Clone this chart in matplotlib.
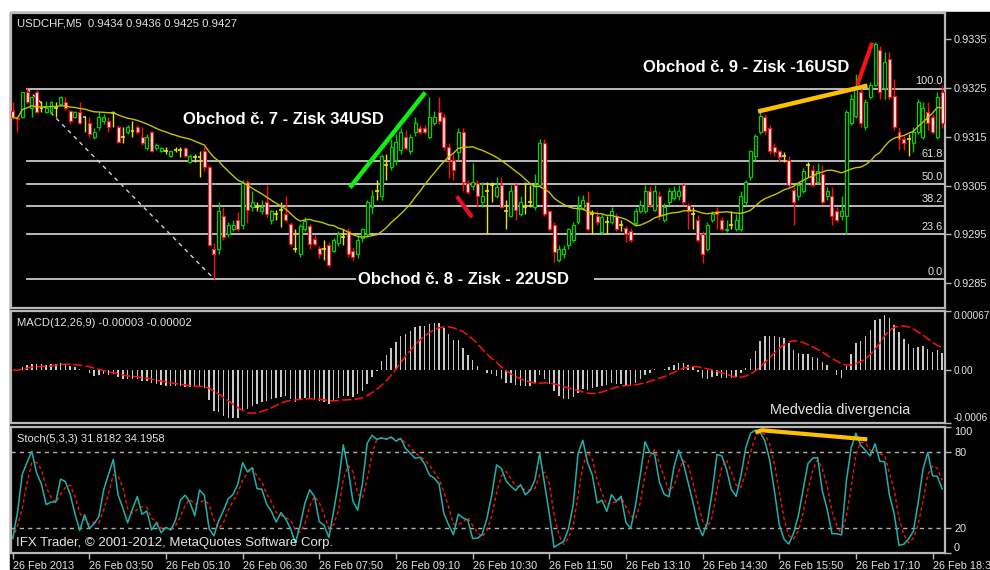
import numpy as np
import matplotlib
matplotlib.use("Agg")
import matplotlib.pyplot as plt
from matplotlib.patches import Rectangle

# ---------------- data (quotes in points, price = points / 100000) ----------------
open_pts = [93202,93188,93190,93243,93210,93241,93210,93200,93200,93210,
            93218,93221,93204,93190,93200,93190,93179,93149,93171,93182,
            93182,93198,93171,93149,93159,93161,93171,93149,93128,93159,
            93128,93120,93120,93110,93124,93124,93128,93099,93108,93108,
            93120,93089,92919,92919,92987,92950,92960,92980,92970,93058,
            93007,93007,92997,93017,92980,92991,93001,92991,92972,92919,
            92909,92960,92968,92941,92923,92919,92929,92915,92933,92945,
            92956,92915,92909,92943,92950,93007,93038,93028,93093,93089,
            93103,93124,93149,93120,93159,93169,93169,93149,93179,93200,
            93190,93130,93103,93118,93159,93056,93050,93056,93017,93038,
            93052,93028,93052,92997,92987,93052,92991,93007,93017,93007,
            93052,93138,92997,92970,92898,92909,92929,92939,92976,93005,
            93017,92991,92987,92954,92976,92976,92987,92970,92964,92956,
            92974,92997,92997,93038,93001,93028,92980,93017,93025,93028,
            93052,93011,92991,92980,92950,92919,92980,92997,92980,92958,
            92970,92960,92960,93017,93068,93110,93159,93190,93169,93130,
            93120,93110,93103,93042,93028,93038,93093,93083,93058,93073,
            93028,93028,92997,92987,92987,93179,93192,93241,93171,93231,
            93257,93329,93251,93309,93233,93159,93145,93145,93138,93159,
            93149,93200,93190,93149,93241]
high_pts = [93221,93192,93243,93251,93233,93247,93223,93223,93223,93221,
            93233,93231,93206,93202,93221,93192,93190,93169,93200,93196,
            93190,93202,93175,93171,93175,93182,93175,93171,93155,93161,
            93138,93130,93130,93122,93130,93130,93130,93114,93114,93120,
            93130,93093,92933,93017,93007,92976,92980,92995,93062,93062,
            93038,93017,93021,93052,93001,93001,93017,93028,92976,92960,
            92972,92985,92972,92948,92927,92939,92935,92943,92956,92960,
            92964,92923,92948,92964,93021,93042,93062,93114,93114,93145,
            93155,93169,93165,93155,93190,93175,93175,93231,93202,93231,
            93196,93138,93114,93169,93169,93062,93097,93062,93058,93058,
            93058,93068,93068,93021,93052,93056,93028,93058,93052,93073,
            93145,93145,93001,92976,92929,92929,92964,92976,93028,93030,
            93038,93001,92997,92991,92987,93007,92993,92980,92968,92964,
            93005,93021,93052,93050,93052,93038,93015,93046,93050,93052,
            93056,93015,93007,92989,92956,92976,92997,93007,92985,92980,
            92997,92991,93038,93062,93124,93155,93210,93196,93175,93138,
            93124,93118,93110,93048,93056,93087,93099,93093,93097,93093,
            93048,93048,93007,93028,93206,93237,93278,93251,93227,93262,
            93344,93336,93323,93323,93268,93171,93151,93155,93171,93227,
            93221,93221,93196,93241,93257]
low_pts = [93186,93159,93188,93218,93190,93198,93200,93198,93196,93190,
           93216,93206,93177,93188,93177,93159,93149,93145,93165,93177,
           93159,93171,93138,93138,93155,93149,93155,93134,93124,93118,
           93124,93118,93114,93108,93118,93108,93108,93097,93099,93068,
           93079,92927,92859,92909,92939,92945,92956,92956,92960,92974,
           92997,92997,92991,92985,92972,92980,92966,92976,92927,92913,
           92904,92956,92919,92927,92902,92898,92884,92913,92927,92929,
           92904,92898,92902,92935,92945,92991,93021,93021,93062,93083,
           93093,93114,93124,93114,93151,93155,93155,93145,93175,93177,
           93124,93066,93062,93103,93038,93032,93042,93007,93007,92950,
           93017,93025,93005,92960,92985,92980,92987,92991,93007,93001,
           93048,92987,92956,92894,92894,92902,92919,92935,92972,93001,
           92956,92950,92970,92950,92950,92972,92956,92956,92935,92935,
           92968,92993,92993,93007,92997,92980,92976,93011,93021,93021,
           93011,92960,92960,92935,92892,92915,92976,92960,92956,92954,
           92960,92956,92956,93011,93062,93103,93155,93155,93114,93110,
           93099,93099,93048,92970,93021,93034,93068,93048,93054,93013,
           93021,92970,92976,92980,92950,93175,93188,93171,93165,93227,
           93254,93227,93227,93227,93165,93124,93124,93110,93118,93155,
           93145,93165,93155,93145,93169]
close_pts = [93190,93186,93241,93221,93231,93200,93210,93210,93221,93210,
             93231,93210,93182,93200,93179,93190,93155,93159,93190,93190,
             93171,93198,93140,93149,93171,93161,93159,93138,93149,93120,
             93134,93128,93120,93120,93124,93124,93110,93110,93108,93108,
             93089,92929,92909,92997,92945,92970,92970,92960,93056,93001,
             93017,93007,93007,92991,92997,92991,93001,92980,92931,92919,
             92968,92978,92931,92931,92909,92919,92888,92939,92950,92945,
             92909,92904,92939,92960,93017,93028,93038,93110,93093,93130,
             93140,93159,93128,93149,93179,93159,93159,93190,93190,93182,
             93130,93103,93083,93159,93058,93036,93058,93028,93028,93038,
             93052,93048,93007,92997,93038,93001,93017,93007,93017,93052,
             93138,92991,92960,92913,92919,92919,92960,92970,93007,93021,
             92960,92991,92976,92985,92976,92997,92960,92970,92950,92939,
             92997,93011,93038,93011,93038,92987,93007,93038,93038,93038,
             93017,92997,92991,92939,92909,92970,92991,92991,92960,92962,
             92970,92980,93028,93058,93120,93151,93192,93161,93120,93118,
             93108,93110,93052,93017,93052,93079,93093,93052,93079,93017,
             93038,92987,92980,92997,93200,93227,93251,93179,93221,93257,
             93340,93241,93303,93231,93171,93145,93138,93145,93159,93221,
             93210,93179,93159,93231,93179]

time_labels = ["26 Feb 2013", "26 Feb 03:50", "26 Feb 05:10", "26 Feb 06:30",
               "26 Feb 07:50", "26 Feb 09:10", "26 Feb 10:30", "26 Feb 11:50",
               "26 Feb 13:10", "26 Feb 14:30", "26 Feb 15:50", "26 Feb 17:10",
               "26 Feb 18:30"]
bars_per_label = 16

price_ticks = [0.9285, 0.9295, 0.9305, 0.9315, 0.9325, 0.9335]
macd_ticks = [-0.0006, 0.0, 0.00067]
macd_tick_labels = ["-0.0006", "0.00", "0.00067"]
stoch_ticks = [0, 20, 80, 100]

ma_period = 20
fib_anchor_bars = [3, 42]
fib_anchor_prices = [0.93249, 0.92859]
fib_levels = [0.0, 23.6, 38.2, 50.0, 61.8, 100.0]

# hand-drawn trend lines: (bar, value) pairs
green_trend = ([70.4, 86.1], [0.93046, 0.93241])
red_trend_1 = ([92.7, 95.9], [0.93028, 0.92985])
gold_trend = ([155.6, 178.4], [0.93202, 0.93255])
red_trend_2 = ([176.3, 179.4], [0.93257, 0.93343])
stoch_gold = ([155.0, 156.4, 178.4], [95.8, 97.4, 90.2])

header_text = "USDCHF,M5  0.9434 0.9436 0.9425 0.9427"
macd_text = "MACD(12,26,9) -0.00003 -0.00002"
stoch_text = "Stoch(5,3,3) 31.8182 34.1958"
trade7 = "Obchod č. 7 - Zisk 34USD"
trade8 = "Obchod č. 8 - Zisk - 22USD"
trade9 = "Obchod č. 9 - Zisk -16USD"
div_text = "Medvedia divergencia"
copyright_text = "IFX Trader, © 2001-2012, MetaQuotes Software Corp."

# ---------------- derived series ----------------
O = np.array(open_pts) / 1e5
H = np.array(high_pts) / 1e5
L = np.array(low_pts) / 1e5
C = np.array(close_pts) / 1e5
n = len(C)
x = np.arange(n)


def sma(v, p):
    out = np.empty(len(v))
    for i in range(len(v)):
        out[i] = v[max(0, i - p + 1):i + 1].mean()
    return out


def ema(v, p):
    a = 2.0 / (p + 1)
    out = np.empty(len(v))
    out[0] = v[0]
    for i in range(1, len(v)):
        out[i] = a * v[i] + (1 - a) * out[i - 1]
    return out


ma = sma(C, ma_period)
macd = ema(C, 12) - ema(C, 26)
macd_sig = sma(macd, 9)

ll = np.array([L[max(0, i - 4):i + 1].min() for i in range(n)])
hh = np.array([H[max(0, i - 4):i + 1].max() for i in range(n)])
k = np.empty(n)
for i in range(n):
    s = max(0, i - 2)
    num = (C[s:i + 1] - ll[s:i + 1]).sum()
    den = (hh[s:i + 1] - ll[s:i + 1]).sum()
    k[i] = 100 * num / den if den > 0 else 50
k_sig = sma(k, 3)

# ---------------- figure ----------------
W, Hpx = 990, 570
fig = plt.figure(figsize=(W / 100, Hpx / 100), dpi=100, facecolor="white")
fig.patches.append(Rectangle((10 / W, 0), 980 / W, (Hpx - 12) / Hpx,
                             transform=fig.transFigure, color="black", zorder=-10))

BORDER = "#b8b8b8"
TXT = "#e4e4e4"
FONT = "Liberation Sans"
plt.rcParams["font.family"] = [FONT, "DejaVu Sans"]


def add_ax(top, bottom, lsize=7.8):
    ax = fig.add_axes([11 / W, (Hpx - bottom) / Hpx, 934 / W, (bottom - top) / Hpx])
    ax.set_facecolor("black")
    for s in ax.spines.values():
        s.set_color(BORDER)
        s.set_linewidth(1.6)
    ax.set_xlim(-0.35, 194.6)
    ax.yaxis.tick_right()
    ax.tick_params(axis="y", colors=BORDER, labelcolor=TXT, length=4, width=1,
                   labelsize=lsize, pad=2.5)
    ax.tick_params(axis="x", bottom=False, labelbottom=False)
    return ax


ax1 = add_ax(13, 308, 7.9)
ax2 = add_ax(311, 423, 7.2)
ax3 = add_ax(427, 553, 7.9)

# ---- main panel ----
ax1.set_ylim(0.92799, 0.93404)
ax1.set_yticks(price_ticks)
ax1.set_yticklabels([f"{t:.4f}" for t in price_ticks])

GREEN = "#00d000"
RED = "#ff1010"
YEL = "#e8e800"
up = C > O
dn = C < O
dj = C == O
wick_col = np.where(up, GREEN, np.where(dn, RED, YEL))
ax1.vlines(x, L, H, colors=wick_col, linewidth=1.0, zorder=3)
bw = 0.62
ax1.bar(x[up], (C - O)[up], bottom=O[up], width=bw, facecolor="black",
        edgecolor=GREEN, linewidth=0.9, zorder=4)
ax1.bar(x[dn], (O - C)[dn], bottom=C[dn], width=bw, facecolor="white",
        edgecolor=RED, linewidth=0.9, zorder=4)
ax1.hlines(C[dj], x[dj] - 0.4, x[dj] + 0.4, colors=YEL, linewidth=1.2, zorder=4)

ax1.plot(x, ma, color="#c4c400", linewidth=1.0, zorder=5)

# fibonacci
fh, fl = fib_anchor_prices
for lvl in fib_levels:
    p = fl + (fh - fl) * lvl / 100.0
    ax1.plot([fib_anchor_bars[0], 194.6], [p, p], color="#c8c8c8", linewidth=1.3, zorder=2)
    ax1.annotate(f"{lvl:.1f}", xy=(0.998, p), xycoords=("axes fraction", "data"),
                 xytext=(0, 1.5), textcoords="offset points", ha="right", va="bottom",
                 color=TXT, fontsize=7.9, zorder=6)
ax1.plot(fib_anchor_bars, fib_anchor_prices, color="#d0d0d0", linewidth=1.0,
         linestyle=(0, (3, 3)), zorder=2)

ax1.plot(*green_trend, color="#10f010", linewidth=3.2, solid_capstyle="butt", zorder=7)
ax1.plot(*red_trend_1, color="#e81020", linewidth=3.0, solid_capstyle="butt", zorder=7)
ax1.plot(*gold_trend, color="#ffc000", linewidth=3.2, solid_capstyle="butt", zorder=7)
ax1.plot(*red_trend_2, color="#ff1010", linewidth=3.0, solid_capstyle="butt", zorder=7)

# ---- MACD panel ----
ax2.set_ylim(-0.0006, 0.00067)
ax2.set_yticks(macd_ticks)
ax2.set_yticklabels(macd_tick_labels)
ax2.bar(x, macd, width=0.3, color="#c8c8c8", zorder=3)
ax2.plot(x, macd_sig, color="#ff1010", linewidth=1.1, linestyle=(0, (6, 2)), zorder=4)
for lab in ax2.get_yticklabels():
    t = lab.get_text()
    if t == "0.00067":
        lab.set_va("top")
    elif t == "-0.0006":
        lab.set_va("bottom")

# ---- Stochastic panel ----
ax3.set_ylim(0, 100)
ax3.set_yticks(stoch_ticks)
ax3.set_yticklabels(["0", "20", "80", "100"])
for lv in (20, 80):
    ax3.axhline(lv, color="#b0b0b0", linewidth=1.0, linestyle=(0, (3, 3)), zorder=2)
ax3.plot(x, k, color="#20b2aa", linewidth=1.1, zorder=4)
ax3.plot(x, k_sig, color="#ff1010", linewidth=1.0, linestyle=(0, (2.5, 2)), zorder=3)
ax3.plot(*stoch_gold, color="#ffc000", linewidth=3.0, solid_capstyle="butt", zorder=6)
for lab in ax3.get_yticklabels():
    if lab.get_text() == "100":
        lab.set_va("top")
    elif lab.get_text() == "0":
        lab.set_va("bottom")

tick_pos = np.arange(len(time_labels)) * bars_per_label
ax3.set_xticks(tick_pos)
ax3.set_xticklabels(time_labels)
ax3.tick_params(axis="x", bottom=True, labelbottom=True, colors=BORDER,
                labelcolor=TXT, length=4, width=1, labelsize=7.8, pad=1.5)
for lab in ax3.get_xticklabels():
    lab.set_ha("left")

# ---- texts ----
def ftext(px, py, s, **kw):
    return fig.text(px / W, 1 - py / Hpx, s, va="center", ha="left", **kw)


ftext(17, 24, header_text, color=TXT, fontsize=8.2)
ftext(17, 323, macd_text, color=TXT, fontsize=8.1)
ftext(17, 439, stoch_text, color=TXT, fontsize=8.0)
ftext(16, 543, copyright_text, color=TXT, fontsize=9.5)
ftext(770, 410, div_text, color=TXT, fontsize=10.4)
ftext(183, 120, trade7, color="white", fontsize=12, fontweight="bold", zorder=10)
ftext(643, 67, trade9, color="white", fontsize=12, fontweight="bold", zorder=10)
ftext(358, 280, trade8 + "     ", color="white", fontsize=12, fontweight="bold", zorder=10,
      bbox=dict(facecolor="black", edgecolor="none", pad=1.5))

fig.savefig("out.png", dpi=100, facecolor="white")
